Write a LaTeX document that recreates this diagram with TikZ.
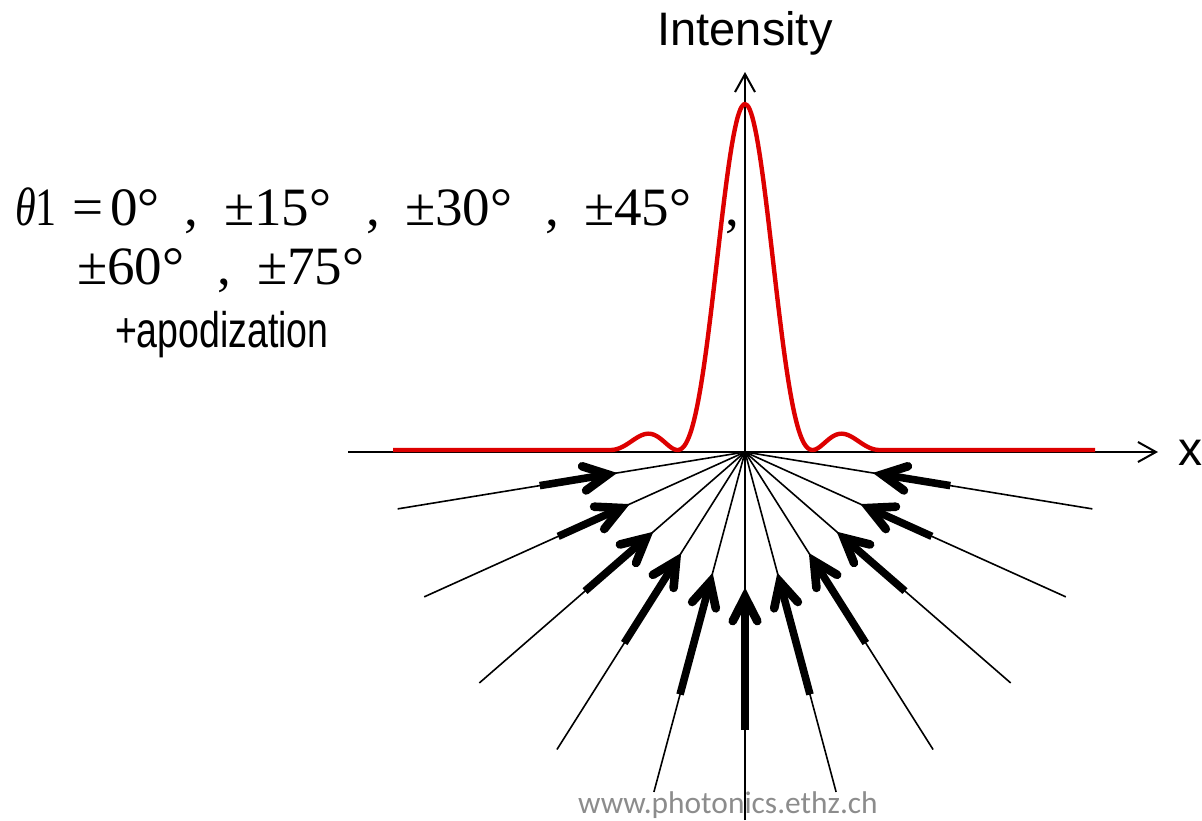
\documentclass[tikz,border=0pt]{standalone}
\usepackage{fontspec}
\setmainfont{Liberation Serif}
\newfontfamily\arialf{Liberation Sans}
\newfontfamily\calibf{Carlito}
\usetikzlibrary{arrows.meta,calc}
\definecolor{curvered}{HTML}{DD0000}
\definecolor{webgray}{HTML}{8C8C8C}
\newcommand{\sqz}[1]{\scalebox{1.02}[1]{#1}}
\begin{document}
\begin{tikzpicture}[x=0.5pt,y=-0.5pt,
  axis/.style={line width=1pt,-{Straight Barb[length=9pt,width=10pt]}},
  ray/.style={line width=0.8pt},
  shaft/.style={line width=3.8pt,line cap=butt},
  head/.style={line width=4.3pt,line cap=round,line join=miter},
  lbl/.style={inner sep=0pt,outer sep=0pt,anchor=base west},
  ser/.style={lbl,font=\fontsize{27}{32}\selectfont},
  ]
\useasboundingbox (0,0) rectangle (1202,820);
\coordinate (O) at (745,452);
\coordinate (xl) at (348,452);
\coordinate (xr) at (1158,452);
\coordinate (yb) at (745,820);
\coordinate (yt) at (745,72);
\draw[axis] (xl) -- (xr);
\draw[axis] (yb) -- (yt);
% intensity curve
\draw[curvered,line width=2.2pt,line join=round]
  (393,450) -- (610,450) --
  plot[domain=-135:135,samples=200]
  ({745+\x},{450-346*(sin(\x*2.666667)/(\x*0.0465421))*(sin(\x*2.666667)/(\x*0.0465421))})
  -- (1095,450);
% incident rays
\foreach \n/\th/\t/\s in {L1/170.7/130/208, L2/155.7/127/205, L3/139/122/212, L4/122.3/120/226, L5/105/125.5/251,
  C/90/136/278,
  R1/9.3/130/208, R2/24.3/127/205, R3/41/122/212, R4/57.7/120/226, R5/75/125.5/251}{
  \coordinate (end\n) at ($(O)+(\th:352)$);
  \coordinate (tip\n) at ($(O)+(\th:{\t+9})$);
  \coordinate (tail\n) at ($(O)+(\th:\s)$);
  \draw[ray] (O) -- (end\n);
  \draw[shaft] (tail\n) -- (tip\n);
  \draw[head] ($(tip\n)+(\th+27:27)$) -- (tip\n) -- ($(tip\n)+(\th-27:27)$);
}
% labels
\node[font=\arialf\fontsize{23.5}{28}\selectfont,anchor=base,inner sep=0pt] (ylab) at (745,45) {Intensity};
\node[lbl,font=\arialf\fontsize{24}{29}\selectfont] (xlab) at (1178,465) {x};
\node[ser] (t1) at (15,225) {\scalebox{0.78}[1]{\itshape θ\upshape 1}};
\node[ser] (t2) at (72,225) {\sqz{=}};
\node[ser] (t3) at (110,225) {\sqz{0°}};
\node[ser] (c1) at (184,225) {\sqz{,}};
\node[ser] (t4) at (224,225) {\sqz{±15°}};
\node[ser] (c2) at (366,225) {\sqz{,}};
\node[ser] (t5) at (405,225) {\sqz{±30°}};
\node[ser] (c3) at (545,225) {\sqz{,}};
\node[ser] (t6) at (584,225) {\sqz{±45°}};
\node[ser] (c4) at (725,225) {\sqz{,}};
\node[ser] (t7) at (77,284) {\sqz{±60°}};
\node[ser] (c5) at (217,284) {\sqz{,}};
\node[ser] (t8) at (257,284) {\sqz{±75°}};
\node[lbl,font=\arialf\fontsize{25}{30}\selectfont] (apod) at (115,347) {\scalebox{0.75}[1]{+apodization}};
\node[font=\calibf\fontsize{15.7}{19}\selectfont,text=webgray,anchor=base,inner sep=0pt] (url) at (728,813) {www.photonics.ethz.ch};
\end{tikzpicture}
\end{document}
